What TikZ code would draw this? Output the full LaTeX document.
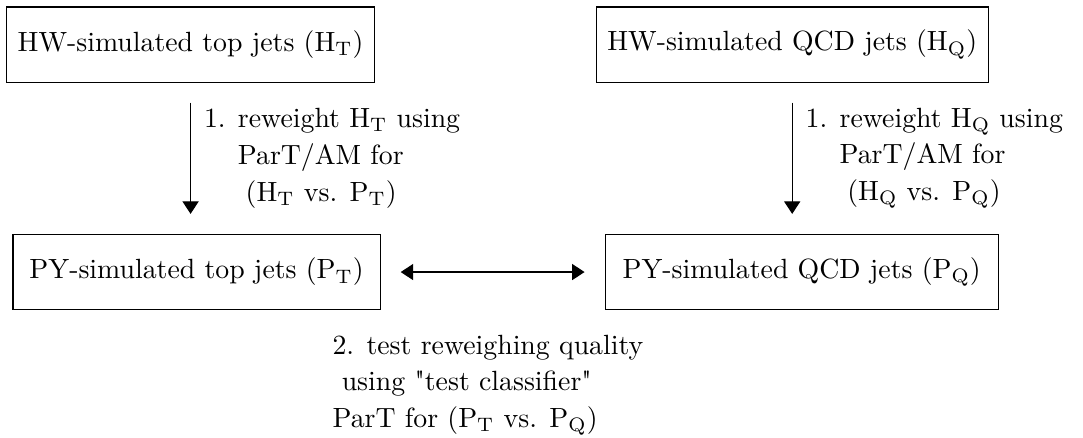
\documentclass[tikz,border=0pt]{standalone}
\usepackage{amsmath, amssymb}
\usepackage{xcolor}
\usepackage{tikz}
\usetikzlibrary{arrows.meta}

\tikzset{
    jetbox/.style={draw, minimum height=0.95cm, inner xsep=4pt},
    steplabel/.style={align=left, font=\linespread{1.1}\selectfont},
    tip/.tip={Triangle[length=4.5pt, width=5.8pt]},
    flow/.style={-tip, shorten <=7.2pt, shorten >=7.2pt}
}
\newcommand{\sampl}[2]{\ensuremath{\mathrm{#1}_\mathrm{#2}}}

\begin{document}
\begin{tikzpicture}
                \useasboundingbox (0,0) rectangle (13.69,-5.525);
                % samples
                \node[jetbox] (ht) at (2.409, -0.563) {HW-simulated top jets (\sampl{H}{T})};
                \node[jetbox] (hq) at (10.014, -0.563) {HW-simulated QCD jets (\sampl{H}{Q})};
                \node[jetbox, minimum width=4.64cm] (pt) at (2.485, -3.439) {PY-simulated top jets (\sampl{P}{T})};
                \node[jetbox, minimum width=4.969cm] (pq) at (10.134, -3.439) {PY-simulated QCD jets (\sampl{P}{Q})};
                % reweighting
                \draw[flow] (ht.south) -- (ht.south |- pt.north)
                    node[midway, right=1.3pt, steplabel] {1. reweight \sampl{H}{T} using\\
                    \hspace*{12.2pt}ParT/AM for\\
                    \hspace*{15pt}(\sampl{H}{T} vs. \sampl{P}{T})};
                \draw[flow] (hq.south) -- (hq.south |- pq.north)
                    node[midway, right=1.3pt, steplabel] {1. reweight \sampl{H}{Q} using\\
                    \hspace*{12.2pt}ParT/AM for\\
                    \hspace*{15pt}(\sampl{H}{Q} vs. \sampl{P}{Q})};
                % test
                \draw[flow, tip-tip] (pt.east) -- (pq.west);
                \node[steplabel, anchor=west] (test) at (4.08, -4.868) {2. test reweighing quality\\
                    \hspace*{3.3pt}using \textquotedbl test classifier\textquotedbl\\
                    ParT for (\sampl{P}{T} vs. \sampl{P}{Q})};
            \end{tikzpicture}
\end{document}
